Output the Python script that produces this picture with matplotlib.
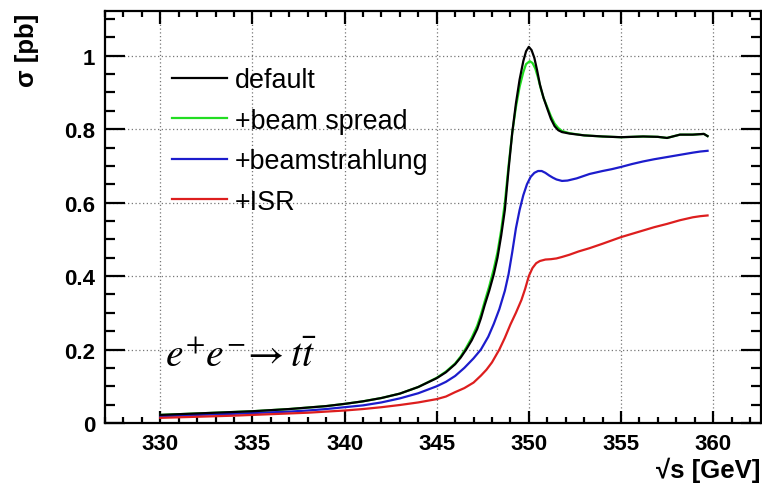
import matplotlib
matplotlib.use("Agg")
import matplotlib.pyplot as plt
from matplotlib.ticker import MultipleLocator

# ---- data ----
x_default = [330, 331, 332, 333, 334, 335, 336, 337, 338, 339, 340, 341, 342, 343, 344, 345,
             345.5, 346, 346.3, 346.6, 346.9, 347.2, 347.4, 347.6, 347.85, 348.1, 348.3, 348.5,
             348.7, 348.9, 349.1, 349.3, 349.5, 349.7, 349.85, 350.0, 350.15, 350.3, 350.45,
             350.6, 350.8, 351.0, 351.2, 351.4, 351.6, 351.8, 352.2, 353.0, 354.0, 355.0, 356.2,
             357.0, 357.5, 358.2, 358.9, 359.5, 359.7]
y_default = [0.022, 0.024, 0.026, 0.028, 0.030, 0.032, 0.035, 0.038, 0.042, 0.046, 0.052, 0.059,
             0.068, 0.080, 0.098, 0.122, 0.138, 0.160, 0.178, 0.200, 0.225, 0.256, 0.285, 0.320,
             0.360, 0.405, 0.450, 0.510, 0.580, 0.690, 0.790, 0.870, 0.935, 0.985, 1.012, 1.024,
             1.015, 0.994, 0.960, 0.922, 0.885, 0.856, 0.828, 0.808, 0.797, 0.792, 0.788, 0.783,
             0.780, 0.778, 0.780, 0.779, 0.776, 0.785, 0.785, 0.787, 0.781]

x_spread = [330, 331, 332, 333, 334, 335, 336, 337, 338, 339, 340, 341, 342, 343, 344, 345,
            345.5, 346, 346.3, 346.6, 346.9, 347.2, 347.4, 347.6, 347.85, 348.1, 348.3, 348.5,
            348.7, 348.9, 349.1, 349.3, 349.5, 349.7, 349.85, 350.05, 350.2, 350.35, 350.5,
            350.65, 350.8, 351.0, 351.2, 351.4, 351.6, 351.8, 352.2, 353.0, 354.0, 355.0, 356.2,
            357.0, 357.5, 358.2, 358.9, 359.5, 359.7]
y_spread = [0.022, 0.024, 0.026, 0.028, 0.030, 0.032, 0.035, 0.038, 0.042, 0.046, 0.052, 0.059,
            0.068, 0.080, 0.098, 0.123, 0.140, 0.162, 0.181, 0.205, 0.232, 0.265, 0.295, 0.330,
            0.372, 0.420, 0.465, 0.525, 0.600, 0.700, 0.790, 0.860, 0.915, 0.955, 0.977, 0.985,
            0.980, 0.965, 0.940, 0.910, 0.885, 0.860, 0.835, 0.815, 0.803, 0.795, 0.789, 0.783,
            0.780, 0.778, 0.780, 0.779, 0.776, 0.785, 0.785, 0.787, 0.781]

x_beamstr = [330, 331, 332, 333, 334, 335, 336, 337, 338, 339, 340, 341, 342, 343, 344, 345,
             345.5, 346, 346.5, 347.0, 347.4, 347.8, 348.1, 348.4, 348.7, 348.9, 349.1, 349.3,
             349.5, 349.7, 349.9, 350.1, 350.3, 350.5, 350.7, 350.9, 351.1, 351.3, 351.5, 351.8,
             352.1, 352.6, 353.3, 354.0, 354.5, 355.0, 355.6, 356.2, 356.8, 357.5, 358.2, 358.9,
             359.3, 359.7]
y_beamstr = [0.019, 0.020, 0.022, 0.0235, 0.025, 0.027, 0.029, 0.031, 0.034, 0.038, 0.043, 0.048,
             0.056, 0.067, 0.081, 0.100, 0.112, 0.128, 0.150, 0.176, 0.200, 0.235, 0.270, 0.310,
             0.360, 0.405, 0.465, 0.530, 0.580, 0.620, 0.650, 0.670, 0.681, 0.686, 0.686, 0.681,
             0.674, 0.668, 0.663, 0.659, 0.660, 0.666, 0.678, 0.686, 0.691, 0.697, 0.705, 0.712,
             0.718, 0.724, 0.730, 0.736, 0.739, 0.741]

x_isr = [330, 331, 332, 333, 334, 335, 336, 337, 338, 339, 340, 341, 342, 343, 344, 345,
         345.5, 346, 346.5, 347.0, 347.4, 347.7, 348.0, 348.4, 348.7, 349.0, 349.3, 349.6,
         349.8, 350.0, 350.2, 350.4, 350.6, 350.9, 351.2, 351.5, 351.8, 352.2, 352.7, 353.3,
         354.0, 354.5, 355.0, 355.6, 356.2, 356.8, 357.5, 358.2, 358.9, 359.3, 359.7]
y_isr = [0.014, 0.0155, 0.017, 0.0185, 0.020, 0.022, 0.024, 0.026, 0.028, 0.031, 0.034, 0.038,
         0.043, 0.049, 0.056, 0.065, 0.072, 0.084, 0.095, 0.110, 0.129, 0.145, 0.165, 0.200,
         0.232, 0.268, 0.300, 0.335, 0.365, 0.400, 0.422, 0.435, 0.441, 0.445, 0.446, 0.448,
         0.452, 0.458, 0.467, 0.476, 0.488, 0.497, 0.506, 0.515, 0.524, 0.533, 0.542, 0.552,
         0.560, 0.563, 0.565]

labels = ["default", "+beam spread", "+beamstrahlung", "+ISR"]
colors = ["black", "#22dd22", "#1c1ccc", "#dd1e1e"]

x_ticks = [330, 335, 340, 345, 350, 355, 360]
y_ticks = [0, 0.2, 0.4, 0.6, 0.8, 1.0]
y_ticklabels = ["0", "0.2", "0.4", "0.6", "0.8", "1"]

plt.rcParams['font.family'] = ['Liberation Sans', 'DejaVu Sans']
plt.rcParams['mathtext.fontset'] = 'stix'

fig = plt.figure(figsize=(7.62, 4.85), dpi=100)
ax = fig.add_axes([105/762, 1 - 424/485, 656/762, (424 - 12)/485])

series = [(x_default, y_default), (x_spread, y_spread), (x_beamstr, y_beamstr), (x_isr, y_isr)]
order = [1, 0, 2, 3]
handles = {}
for i in order:
    xs, ys = series[i]
    h, = ax.plot(xs, ys, color=colors[i], lw=1.6, label=labels[i],
                 zorder=4 if i == 0 else 3, solid_joinstyle='round')
    handles[i] = h

ax.set_xlim(327.0, 362.6)
ax.set_ylim(0, 1.1216)
ax.set_xticks(x_ticks)
ax.set_yticks(y_ticks)
ax.set_yticklabels(y_ticklabels)
ax.xaxis.set_minor_locator(MultipleLocator(1))
ax.yaxis.set_minor_locator(MultipleLocator(0.05))

ax.grid(True, which='major', linestyle=(0, (1, 2)), color='#777777', linewidth=0.9)
ax.set_axisbelow(True)

for s in ax.spines.values():
    s.set_linewidth(1.6)

ax.tick_params(axis='both', which='both', direction='in', top=True, right=True, width=1.6)
ax.tick_params(axis='x', which='major', length=9, labelsize=16, pad=7)
ax.tick_params(axis='x', which='minor', length=4.5)
ax.tick_params(axis='y', which='major', length=14.5, labelsize=16, pad=7)
ax.tick_params(axis='y', which='minor', length=7.2)
for lab in ax.get_xticklabels() + ax.get_yticklabels():
    lab.set_fontweight('bold')

fig.text(760/762, 1 - 470/485, "√s [GeV]", ha='right', va='center',
         fontsize=18.5, fontweight='bold')
fig.text(27/762, 1 - 14/485, "σ [pb]", ha='center', va='top', rotation=90,
         fontsize=18.5, fontweight='bold')

ax.text(330.27, 0.155, r'$e^{+}e^{-}\!\rightarrow t\bar{t}$',
        fontsize=28.5, ha='left', va='baseline')

leg = ax.legend([handles[0], handles[1], handles[2], handles[3]], labels,
                loc='upper left', bbox_to_anchor=((172 - 105) / 656, (424 - 68) / 412),
                frameon=False, fontsize=19.4, handlelength=2.04, handletextpad=0.3,
                labelspacing=0.54, borderaxespad=0, borderpad=0)

fig.savefig("out.png", dpi=100)
